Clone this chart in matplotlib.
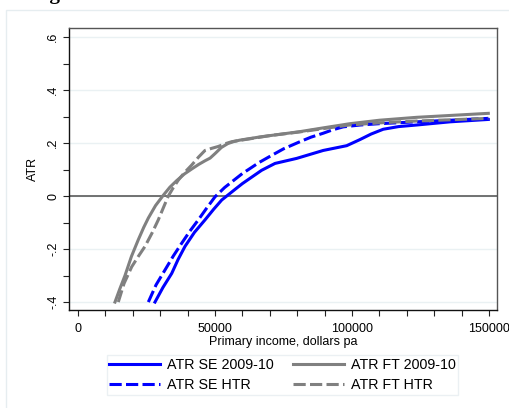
import matplotlib
matplotlib.use("Agg")
import matplotlib.pyplot as plt
from matplotlib.patches import Rectangle
from matplotlib.ticker import MultipleLocator

plt.rcParams['font.family'] = ['Liberation Sans', 'DejaVu Sans']

# ATR curves (income in dollars pa, ATR as a fraction)
se_0910_x = [28100, 31000, 34200, 36500, 39050, 42500, 46350, 49500, 52450, 55000,
             57300, 60000, 62800, 67000, 71900, 79800, 89500, 98070, 102900, 107000,
             111400, 117000, 123600, 135800, 149750]
se_0910_y = [-0.40, -0.345, -0.292, -0.24, -0.19, -0.137, -0.09, -0.05, -0.015, 0.006,
             0.025, 0.047, 0.067, 0.097, 0.123, 0.142, 0.172, 0.190, 0.213, 0.234,
             0.252, 0.262, 0.268, 0.280, 0.289]

ft_0910_x = [13500, 15200, 17150, 19500, 22000, 24000, 25670, 28300, 31140, 33500,
             36000, 38800, 41500, 44000, 46350, 48200, 50000, 52300, 54700, 57000,
             59100, 62800, 66400, 73000, 81000, 90000, 99270, 110000, 123600, 149750]
ft_0910_y = [-0.40, -0.352, -0.300, -0.228, -0.165, -0.118, -0.083, -0.036, 0.003, 0.033,
             0.058, 0.083, 0.102, 0.119, 0.133, 0.143, 0.160, 0.183, 0.198, 0.206,
             0.211, 0.217, 0.223, 0.232, 0.243, 0.258, 0.273, 0.286, 0.297, 0.312]

se_htr_x = [25670, 28500, 31750, 34800, 37850, 40800, 43900, 47000, 50000, 53500,
            57300, 60000, 62800, 66000, 70100, 75000, 81000, 85000, 89500, 93000,
            96800, 103000, 110000, 123600, 149750]
se_htr_y = [-0.40, -0.335, -0.279, -0.226, -0.178, -0.133, -0.09, -0.045, -0.003, 0.032,
            0.063, 0.085, 0.104, 0.126, 0.150, 0.178, 0.205, 0.222, 0.237, 0.250,
            0.261, 0.268, 0.273, 0.280, 0.293]

ft_htr_x = [14700, 16800, 19600, 22000, 24450, 27000, 29300, 31200, 32960, 34800,
            36600, 39000, 41500, 44000, 46350, 48800, 51200, 53600, 56100, 59000,
            62800, 70000, 81000, 90000, 99000, 110000, 123600, 149750]
ft_htr_y = [-0.40, -0.330, -0.267, -0.228, -0.19, -0.14, -0.09, -0.043, 0.0, 0.032,
            0.060, 0.090, 0.117, 0.147, 0.172, 0.180, 0.187, 0.197, 0.205, 0.210,
            0.216, 0.228, 0.242, 0.255, 0.268, 0.276, 0.283, 0.293]

ytick_vals = [-0.4, -0.2, 0, 0.2, 0.4, 0.6]
ytick_labels = ["-.4", "-.2", "0", ".2", ".4", ".6"]
xtick_vals = [0, 50000, 100000, 150000]

BLUE = "#0000ff"
GREY = "#808080"
LW = 2.2
DASH = (4, 1.4)
FS = 9

fig = plt.figure(figsize=(5.09, 4.08), dpi=100)
fig.patch.set_facecolor("white")

# outer graph region frame and the cut-off caption above it
fig.patches.append(Rectangle((6 / 509, -0.05), 1.0, 1 - 10 / 408 + 0.05,
                             transform=fig.transFigure, fill=False,
                             edgecolor="#e6edf0", lw=1))
fig.text(0.063, 1.002, "Figure", fontsize=15, fontweight="bold",
         family=["Liberation Serif", "DejaVu Serif"], va="baseline", ha="left")

ax = fig.add_axes([69 / 509, 1 - 310 / 408, (497 - 69) / 509, (310 - 28) / 408])

for y in ytick_vals:
    ax.axhline(y, color="#eaf1f3", lw=1, zorder=0)
ax.axhline(0, color="#5a5a5a", lw=1.2, zorder=1)

l1, = ax.plot(se_0910_x, se_0910_y, color=BLUE, lw=LW, label="ATR SE 2009-10")
l2, = ax.plot(ft_0910_x, ft_0910_y, color=GREY, lw=LW, label="ATR FT 2009-10")
l3, = ax.plot(se_htr_x, se_htr_y, color=BLUE, lw=LW, dashes=DASH, label="ATR SE HTR")
l4, = ax.plot(ft_htr_x, ft_htr_y, color=GREY, lw=LW, dashes=DASH, label="ATR FT HTR")

ax.set_xlim(-3285, 152920)
ax.set_ylim(-0.430, 0.634)

ax.set_xticks(xtick_vals)
ax.xaxis.set_minor_locator(MultipleLocator(10000))
ax.set_yticks(ytick_vals)
ax.set_yticklabels(ytick_labels, rotation=90, va="center")
ax.yaxis.set_minor_locator(MultipleLocator(0.1))
ax.tick_params(which="both", direction="out", length=4, width=0.8, labelsize=FS,
               color="#222222")
ax.tick_params(axis="x", pad=5)
ax.tick_params(axis="y", pad=3)

for side in ["left", "bottom"]:
    ax.spines[side].set_color("#111111")
    ax.spines[side].set_linewidth(1.0)
for side in ["top", "right"]:
    ax.spines[side].set_color("#555555")
    ax.spines[side].set_linewidth(1.0)

ax.set_xlabel("Primary income, dollars pa", fontsize=FS, labelpad=1)
ax.set_ylabel("ATR", fontsize=FS, labelpad=6)

leg = fig.legend([l1, l3, l2, l4], [h.get_label() for h in [l1, l3, l2, l4]],
                 loc="center", bbox_to_anchor=(282.5 / 509, 1 - 375 / 408), ncol=2,
                 fontsize=10.3, handlelength=3.5, frameon=True, fancybox=False,
                 borderpad=0.2, labelspacing=0.45, columnspacing=1.4,
                 handletextpad=0.5)
leg.get_frame().set_edgecolor("#e6edf0")
leg.get_frame().set_linewidth(1)

fig.savefig("out.png", dpi=100)
